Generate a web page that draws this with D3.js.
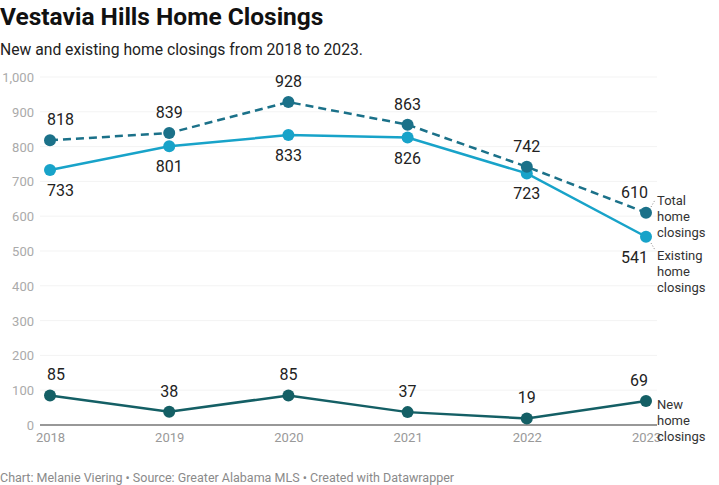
<!DOCTYPE html>
<html>
<head>
<meta charset="utf-8">
<script src="https://cdn.jsdelivr.net/npm/d3@7"></script>
<style>
  body { margin: 0; background: #fff; }
  text { font-family: Roboto, "Noto Sans", sans-serif; }
</style>
</head>
<body>
<script>
let width = 719;
let height = 485;

// data
let years = ["2018", "2019", "2020", "2021", "2022", "2023"];
let total = [818, 839, 928, 863, 742, 610];
let existing = [733, 801, 833, 826, 723, 541];
let newHomes = [85, 38, 85, 37, 19, 69];
let yTicks = [0, 100, 200, 300, 400, 500, 600, 700, 800, 900, 1000];

let svg = d3.select("body").append("svg")
            .attr("width", width)
            .attr("height", height);

let x = d3.scalePoint().domain(years).range([50, 646]);
let y = d3.scaleLinear().domain([0, 1000]).range([425, 77]);

// title + subtitle
svg.append("text").attr("x", 0).attr("y", 25)
   .attr("font-size", 24.5).attr("font-weight", 700).attr("fill", "#111")
   .text("Vestavia Hills Home Closings");
svg.append("text").attr("x", 0).attr("y", 55)
   .attr("font-size", 15.7).attr("fill", "#222")
   .text("New and existing home closings from 2018 to 2023.");

// gridlines
svg.append("g").selectAll("line").data(yTicks.filter(d => d > 0)).join("line")
   .attr("x1", 40).attr("x2", 657)
   .attr("y1", d => y(d)).attr("y2", d => y(d))
   .attr("stroke", "#f3f3f3").attr("stroke-width", 1);

// y axis labels
let yAxis = d3.axisLeft(y).tickValues(yTicks).tickSize(0).tickPadding(0)
              .tickFormat(d3.format(","));
svg.append("g").attr("transform", "translate(34,0)").call(yAxis)
   .call(g => g.select(".domain").remove())
   .call(g => g.selectAll("text").attr("font-size", 13).attr("fill", "#aaa")
                .attr("font-family", "Roboto, sans-serif").attr("dy", "0.35em"));

// x axis
let xAxis = d3.axisBottom(x).tickSize(0).tickPadding(8);
svg.append("g").attr("transform", "translate(0,425)").call(xAxis)
   .call(g => g.select(".domain").remove())
   .call(g => g.selectAll("text").attr("font-size", 13).attr("fill", "#999")
                .attr("font-family", "Roboto, sans-serif"));

svg.append("line").attr("x1", 40).attr("x2", 657)
   .attr("y1", y(0)).attr("y2", y(0))
   .attr("stroke", "#333").attr("stroke-width", 1.2);

let line = d3.line().x((d, i) => x(years[i])).y(d => y(d));

let series = [
  { values: existing, color: "#18a3c9", dash: null, labelPos: "below" },
  { values: total, color: "#1b7189", dash: "8,5", labelPos: "above" },
  { values: newHomes, color: "#145f65", dash: null, labelPos: "above" }
];

series.forEach(s => {
  svg.append("path").attr("d", line(s.values))
     .attr("fill", "none").attr("stroke", s.color)
     .attr("stroke-width", 2.5).attr("stroke-dasharray", s.dash);

  svg.append("g").selectAll("circle").data(s.values).join("circle")
     .attr("cx", (d, i) => x(years[i])).attr("cy", d => y(d))
     .attr("r", 6).attr("fill", s.color);

  svg.append("g").selectAll("text").data(s.values).join("text")
     .attr("x", (d, i) => i === 0 ? x(years[i]) - 3 : i === 5 ? x(years[i]) + 2 : x(years[i]))
     .attr("y", d => s.labelPos === "above" ? y(d) - 15 : y(d) + 26)
     .attr("text-anchor", (d, i) => i === 0 ? "start" : i === 5 ? "end" : "middle")
     .attr("font-size", 16).attr("fill", "#222")
     .text(d => d);
});

// series labels at the right
let seriesLabels = [
  { lines: ["Total", "home", "closings"], top: 200 },
  { lines: ["Existing", "home", "closings"], top: 255 },
  { lines: ["New", "home", "closings"], top: 404 }
];

seriesLabels.forEach(l => {
  let t = svg.append("text").attr("x", 657).attr("font-size", 13).attr("fill", "#333");
  l.lines.forEach((s, i) => {
    t.append("tspan").attr("x", 657).attr("y", l.top + 4.5 + i * 16.3).text(s);
  });
});

// small dotted connectors
svg.append("line").attr("x1", 651).attr("y1", 207).attr("x2", 655).attr("y2", 200)
   .attr("stroke", "#888").attr("stroke-dasharray", "1,2");
svg.append("line").attr("x1", 651).attr("y1", 243).attr("x2", 655).attr("y2", 250)
   .attr("stroke", "#888").attr("stroke-dasharray", "1,2");

// footer
svg.append("text").attr("x", 0).attr("y", 482)
   .attr("font-size", 12.5).attr("fill", "#8a8a8a")
   .text("Chart: Melanie Viering \u2022 Source: Greater Alabama MLS \u2022 Created with Datawrapper");
</script>
</body>
</html>
